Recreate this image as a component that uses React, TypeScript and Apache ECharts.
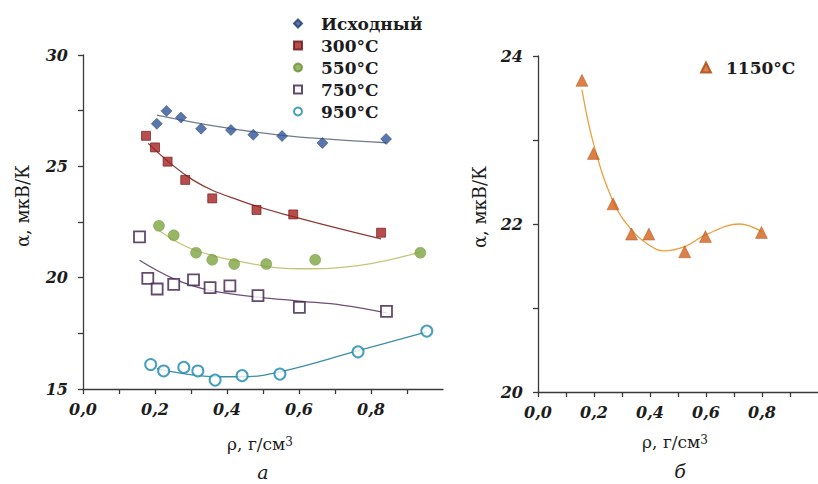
import React, { useEffect, useRef } from "react";
import * as echarts from "echarts";

// ---- Panel "а" (left) ----
const seriesNamesA = ["Исходный", "300°C", "550°C", "750°C", "950°C"];

const rhoInit = [0.205, 0.232, 0.272, 0.328, 0.411, 0.473, 0.553, 0.665, 0.842];
const alphaInit = [26.91, 27.49, 27.19, 26.69, 26.63, 26.42, 26.36, 26.05, 26.23];
const trendInitRho = [0.205, 0.376, 0.553, 0.7, 0.842];
const trendInitAlpha = [27.3, 26.78, 26.39, 26.2, 26.06];

const rho300 = [0.175, 0.2, 0.235, 0.284, 0.359, 0.482, 0.584, 0.828];
const alpha300 = [26.37, 25.85, 25.21, 24.39, 23.56, 23.04, 22.84, 22.02];
const trend300Rho = [0.181, 0.306, 0.436, 0.584, 0.828];
const trend300Alpha = [26.03, 24.38, 23.46, 22.74, 21.74];

const rho550 = [0.211, 0.252, 0.314, 0.359, 0.42, 0.509, 0.645, 0.937];
const alpha550 = [22.33, 21.9, 21.12, 20.8, 20.61, 20.61, 20.8, 21.12];
const trend550Rho = [0.211, 0.314, 0.509, 0.603, 0.769, 0.937];
const trend550Alpha = [22.12, 21.22, 20.51, 20.4, 20.55, 21.15];

const rho750 = [0.157, 0.18, 0.206, 0.252, 0.307, 0.353, 0.408, 0.486, 0.601, 0.843];
const alpha750 = [21.83, 19.97, 19.49, 19.7, 19.9, 19.55, 19.63, 19.19, 18.67, 18.49];
const trend750Rho = [0.157, 0.251, 0.353, 0.486, 0.601, 0.723, 0.843];
const trend750Alpha = [20.78, 19.96, 19.43, 19.13, 18.95, 18.76, 18.42];

const rho950 = [0.188, 0.224, 0.28, 0.319, 0.367, 0.442, 0.547, 0.764, 0.955];
const alpha950 = [16.1, 15.81, 15.97, 15.81, 15.4, 15.6, 15.67, 16.67, 17.6];
const trend950Rho = [0.205, 0.367, 0.442, 0.547, 0.764, 0.955];
const trend950Alpha = [15.92, 15.55, 15.55, 15.77, 16.72, 17.57];

// ---- Panel "б" (right) ----
const seriesNameB = "1150°C";
const rho1150 = [0.157, 0.198, 0.268, 0.334, 0.396, 0.524, 0.598, 0.798];
const alpha1150 = [23.71, 22.84, 22.24, 21.88, 21.88, 21.67, 21.85, 21.9];
const trend1150Rho = [0.157, 0.198, 0.268, 0.334, 0.396, 0.45, 0.524, 0.598, 0.72, 0.798];
const trend1150Alpha = [23.6, 22.96, 22.27, 21.93, 21.75, 21.68, 21.73, 21.87, 22.0, 21.91];

// ---- Axis texts ----
const yAxisTitle = "α, мкВ/К";
const xAxisTitle = "ρ, г/см{sup|3}";
const captionA = "а";
const captionB = "б";

const zip = (xs: number[], ys: number[]) => xs.map((x, i) => [x, ys[i]]);

const SERIF = "'DejaVu Serif', 'Liberation Serif', serif";
const INK = "#1c1c1c";
const AXIS = "#3a3a3a";

const xLabelFmt = (v: number) => {
  const t = Math.round(v * 10);
  if (t % 2 !== 0 || t >= 10) return "";
  return (t / 10).toFixed(1).replace(".", ",");
};

const tickLabel = {
  fontFamily: SERIF,
  fontStyle: "italic" as const,
  fontWeight: "bold" as const,
  fontSize: 16,
  color: INK,
};

function makeXAxis(gridIndex: number, max: number) {
  return {
    type: "value",
    gridIndex,
    min: 0,
    max,
    interval: 0.1,
    axisLine: { show: true, onZero: false, lineStyle: { color: AXIS, width: 1.3 } },
    axisTick: { show: true, inside: false, length: 5, lineStyle: { color: AXIS, width: 1.3 } },
    axisLabel: { ...tickLabel, margin: 12, formatter: xLabelFmt, showMaxLabel: false },
    splitLine: { show: false },
  };
}

function makeYAxis(gridIndex: number, min: number, max: number, interval: number, labelEvery: number) {
  return {
    type: "value",
    gridIndex,
    min,
    max,
    interval,
    axisLine: { show: true, onZero: false, lineStyle: { color: AXIS, width: 1.3 } },
    axisTick: { show: true, inside: false, length: 5, lineStyle: { color: AXIS, width: 1.3 } },
    axisLabel: {
      ...tickLabel,
      margin: 15,
      formatter: (v: number) => (Math.abs(v / labelEvery - Math.round(v / labelEvery)) < 1e-6 ? String(v) : ""),
    },
    splitLine: { show: false },
  };
}

function scatter(name: string, xs: number[], ys: number[], gi: number, symbol: string, size: number, itemStyle: any) {
  return {
    type: "scatter",
    name,
    xAxisIndex: gi,
    yAxisIndex: gi,
    data: zip(xs, ys),
    symbol,
    symbolSize: size,
    itemStyle,
    z: 3,
  };
}

function trend(name: string, xs: number[], ys: number[], gi: number, color: string) {
  return {
    type: "line",
    name,
    xAxisIndex: gi,
    yAxisIndex: gi,
    data: zip(xs, ys),
    smooth: 0.4,
    showSymbol: false,
    symbol: "none",
    silent: true,
    lineStyle: { color, width: 1.3 },
    z: 2,
  };
}

const legendText = {
  fontFamily: SERIF,
  fontWeight: "bold" as const,
  fontSize: 17,
  lineHeight: 17,
  color: INK,
};

const supRich = { sup: { fontSize: 12, fontFamily: SERIF, lineHeight: 12, verticalAlign: "top", fill: INK } };

export default function App() {
  const ref = useRef<HTMLDivElement>(null);
  useEffect(() => {
    if (!ref.current) return;
    document.body.style.margin = "0";
    document.body.style.overflow = "hidden";
    const chart = echarts.init(ref.current, undefined, { renderer: "svg" });
    const option: any = {
      animation: false,
      backgroundColor: "#ffffff",
      grid: [
        { left: 83, right: 375, top: 55, bottom: 95, containLabel: false },
        { left: 538, right: -5, top: 56, bottom: 92, containLabel: false },
      ],
      xAxis: [makeXAxis(0, 1.0), makeXAxis(1, 1.0)],
      yAxis: [makeYAxis(0, 15, 30, 2.5, 5), makeYAxis(1, 20, 24, 1, 2)],
      legend: [
        {
          data: seriesNamesA,
          orient: "vertical",
          left: 293,
          top: 15,
          padding: 0,
          itemWidth: 8,
          itemHeight: 8,
          itemGap: 5,
          textStyle: { ...legendText, padding: [0, 0, 0, 14] },
          selectedMode: false,
        },
        {
          data: [seriesNameB],
          orient: "vertical",
          left: 700,
          top: 59,
          padding: 0,
          itemWidth: 10,
          itemHeight: 10,
          textStyle: { ...legendText, padding: [0, 0, 0, 10] },
          selectedMode: false,
        },
      ],
      series: [
        trend("trend-init", trendInitRho, trendInitAlpha, 0, "#6f7d8c"),
        trend("trend-300", trend300Rho, trend300Alpha, 0, "#8e3b36"),
        trend("trend-550", trend550Rho, trend550Alpha, 0, "#c3c67a"),
        trend("trend-750", trend750Rho, trend750Alpha, 0, "#6e4f78"),
        trend("trend-950", trend950Rho, trend950Alpha, 0, "#3b8ea6"),
        trend("trend-1150", trend1150Rho, trend1150Alpha, 1, "#eba040"),
        scatter(seriesNamesA[0], rhoInit, alphaInit, 0, "diamond", 11, { color: "#2f5597", borderColor: "#1f3a6e", borderWidth: 0.6 }),
        scatter(seriesNamesA[1], rho300, alpha300, 0, "rect", 9, { color: "#a52222", borderColor: "#6b1414", borderWidth: 0.8 }),
        scatter(seriesNamesA[2], rho550, alpha550, 0, "circle", 11, { color: "#7ea540", borderColor: "#6a8f32", borderWidth: 0.5 }),
        scatter(seriesNamesA[3], rho750, alpha750, 0, "rect", 11, { color: "#ffffff", borderColor: "#3b1b4a", borderWidth: 1.8 }),
        scatter(seriesNamesA[4], rho950, alpha950, 0, "circle", 11, { color: "#ffffff", borderColor: "#1c87b0", borderWidth: 2 }),
        scatter(seriesNameB, rho1150, alpha1150, 1, "triangle", 12, { color: "#d2601a", borderColor: "#a84510", borderWidth: 0.5 }),
      ],
      graphic: [
        {
          type: "text",
          x: 22,
          y: 206,
          rotation: Math.PI / 2,
          style: { text: yAxisTitle, font: `18px ${SERIF}`, fill: INK, align: "center", verticalAlign: "middle" },
        },
        {
          type: "text",
          x: 479,
          y: 207,
          rotation: Math.PI / 2,
          style: { text: yAxisTitle, font: `18px ${SERIF}`, fill: INK, align: "center", verticalAlign: "middle" },
        },
        {
          type: "text",
          x: 260,
          y: 444,
          style: { text: xAxisTitle, font: `17px ${SERIF}`, fill: INK, align: "center", verticalAlign: "middle", rich: supRich },
        },
        {
          type: "text",
          x: 675,
          y: 442,
          style: { text: xAxisTitle, font: `17px ${SERIF}`, fill: INK, align: "center", verticalAlign: "middle", rich: supRich },
        },
        {
          type: "text",
          x: 263,
          y: 472,
          style: { text: captionA, font: `italic 19px ${SERIF}`, fill: INK, align: "center", verticalAlign: "middle" },
        },
        {
          type: "text",
          x: 680,
          y: 471,
          style: { text: captionB, font: `italic 19px ${SERIF}`, fill: INK, align: "center", verticalAlign: "middle" },
        },
      ],
    };
    chart.setOption(option);
    return () => chart.dispose();
  }, []);
  return <div ref={ref} style={{ width: 818, height: 484 }} />;
}
